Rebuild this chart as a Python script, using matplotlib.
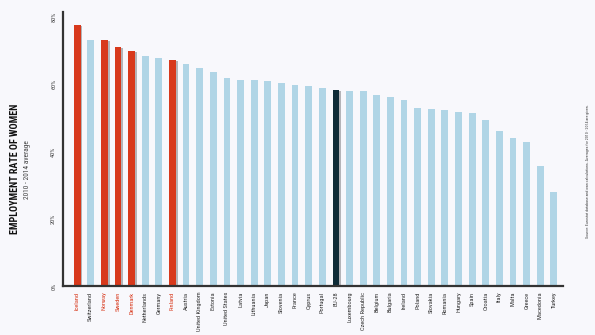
import matplotlib
matplotlib.use("Agg")
import matplotlib.pyplot as plt
from matplotlib.ticker import FixedLocator

##### DATA #####
countries = ["Iceland", "Switzerland", "Norway", "Sweden", "Denmark", "Netherlands",
             "Germany", "Finland", "Austria", "United Kingdom", "Estonia", "United States",
             "Latvia", "Lithuania", "Japan", "Slovenia", "France", "Cyprus", "Portugal",
             "EU-28", "Luxembourg", "Czech Republic", "Belgium", "Bulgaria", "Ireland",
             "Poland", "Slovakia", "Romania", "Hungary", "Spain", "Croatia", "Italy",
             "Malta", "Greece", "Macedonia", "Turkey"]
rates = [77.6, 73.3, 73.2, 71.2, 69.9, 68.5, 67.8, 67.3, 66.1, 65.0, 63.7, 62.0,
         61.3, 61.3, 61.1, 60.3, 59.7, 59.6, 59.0, 58.3, 58.1, 57.9, 56.8, 56.3,
         55.3, 53.1, 52.8, 52.5, 51.8, 51.4, 49.4, 46.2, 44.0, 42.9, 35.6, 28.1]
nordic = ["Iceland", "Norway", "Sweden", "Denmark", "Finland"]
y_ticks = [0, 20, 40, 60, 80]
y_ticklabels = ["0%", "20%", "40%", "60%", "80%"]

##### COLOURS #####
c_red = "#d8391c"
c_blue = "#b0d5e6"
c_eu = "#0e2b37"
c_shadow = "#b4b4b8"
c_bg = "#f8f8fc"

cond = ['Roboto Condensed', 'Barlow Condensed', 'DejaVu Sans']
plt.rcParams['font.family'] = cond

fig = plt.figure(figsize=(5.95, 3.35), dpi=100, facecolor=c_bg)
ax = fig.add_axes([0.106, 0.146, 0.84, 0.818])
ax.set_facecolor(c_bg)

x = list(range(len(countries)))
colors = []
for c in countries:
    if c in nordic:
        colors.append(c_red)
    elif c == "EU-28":
        colors.append(c_eu)
    else:
        colors.append(c_blue)

# shadow behind highlighted bars
sx = [i + 0.13 for i, c in zip(x, colors) if c != c_blue]
sv = [v - 0.3 for v, c in zip(rates, colors) if c != c_blue]
ax.bar(sx, sv, width=0.5, color=c_shadow, zorder=1)
ax.bar(x, rates, width=0.5, color=colors, zorder=2)

ax.set_xlim(-1.03, len(countries) - 0.34)
ax.set_ylim(0, 81.5)

# spines
for s in ['top', 'right']:
    ax.spines[s].set_visible(False)
ax.spines['left'].set_color("#333333")
ax.spines['left'].set_linewidth(1.6)
ax.spines['bottom'].set_color("#333333")
ax.spines['bottom'].set_linewidth(1.6)

# y ticks
ax.yaxis.set_major_locator(FixedLocator(y_ticks))
ax.set_yticklabels(y_ticklabels, rotation=90, va='center', fontsize=4.5, color="#444444")
ax.tick_params(axis='y', length=0, pad=5)

# x ticks
ax.set_xticks(x)
ax.set_xticklabels(countries, rotation=90, fontsize=4.6, va='top', ha='center')
ax.tick_params(axis='x', length=0, pad=4)
for lbl, c in zip(ax.get_xticklabels(), colors):
    lbl.set_color(c_red if c == c_red else "#333333")

# titles
fig.text(0.025, 0.495, "EMPLOYMENT RATE OF WOMEN", rotation=90, ha='center', va='center',
         fontsize=7.2, fontweight='bold', color="#111111")
fig.text(0.046, 0.495, "2010 - 2014 average", rotation=90, ha='center', va='center',
         fontsize=5.3, color="#444444")
fig.text(0.989, 0.49, "Source: Eurostat database and own calculations. Averages for 2010 - 2014 are given.",
         rotation=90, ha='center', va='center', fontsize=2.9, color="#444444")

plt.savefig("out.png", dpi=100, facecolor=c_bg)
plt.close()
